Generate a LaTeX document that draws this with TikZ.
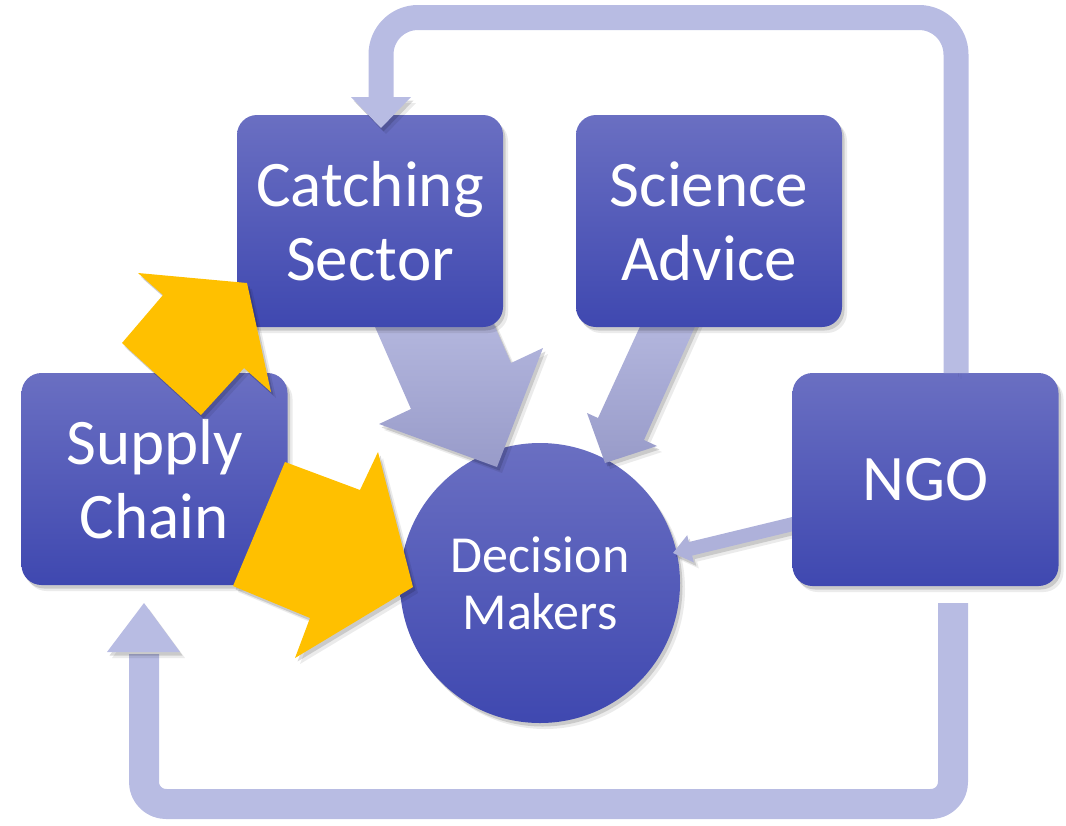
\documentclass[tikz,border=0pt]{standalone}
\usepackage{fontspec}
\setmainfont{Carlito}
\definecolor{boxtop}{RGB}{106,111,194}
\definecolor{boxbot}{RGB}{63,72,176}
\definecolor{loopc}{RGB}{184,188,227}
\definecolor{lavtop}{RGB}{180,183,222}
\definecolor{lavbot}{RGB}{152,155,201}
\definecolor{gold}{RGB}{255,192,0}
\tikzset{
  shad/.style={
    preaction={fill=black,opacity=.08,transform canvas={shift={(5pt,-6pt)}}},
    preaction={fill=black,opacity=.14,transform canvas={shift={(2.5pt,-3.5pt)}}}},
  lshad/.style={
    preaction={draw=black,opacity=.08,transform canvas={shift={(5pt,-6pt)}}},
    preaction={draw=black,opacity=.14,transform canvas={shift={(2.5pt,-3.5pt)}}}},
  boxnode/.style={shad, rounded corners=20pt, top color=boxtop, bottom color=boxbot,
    minimum width=266pt, minimum height=212pt, inner sep=0pt, text=white,
    align=center, font=\fontsize{65}{74}\selectfont},
  dmnode/.style={shad, circle, top color=boxtop, bottom color=boxbot,
    minimum size=280pt, inner sep=0pt, text=white, align=center,
    font=\fontsize{52}{57}\selectfont},
  looparrow/.style={lshad, draw=loopc, line cap=butt, line join=round},
  loophead/.style={shad, fill=loopc},
  lavarrow/.style={shad, top color=lavtop, bottom color=lavbot},
  ngoarrow/.style={shad, fill=lavtop!80!lavbot},
  goldarrow/.style={shad, fill=gold}
}
\begin{document}
\begin{tikzpicture}[x=1pt,y=-1pt]
\useasboundingbox (0,0) rectangle (1066,825);

% decision makers
\node[dmnode] (dm) at (540,583) {Decision\\Makers};

% lavender block arrows into decision makers
\path[lavarrow] (372,320) -- (411,409) -- (379,424) -- (497,467) -- (543,348) -- (511,363) -- (492,320) -- cycle;
\path[lavarrow] (643,320) -- (598,418) -- (587,413) -- (605,463) -- (657,446) -- (644,440) -- (698,320) -- cycle;
\path[ngoarrow] (798.4,515.5) -- (688.9,542.0) -- (687.2,535.2) -- (673,553) -- (693.8,562.4) -- (692.1,555.6) -- (801.6,529.1) -- cycle;

% boxes
\node[boxnode] (cs) at (370,221) {Catching\\Sector};
\node[boxnode] (sa) at (709,221) {Science\\Advice};
\node[boxnode] (sc) at (154.5,479) {Supply\\Chain};
\node[boxnode, minimum height=213pt] (ngo) at (925.5,479.5) {NGO};

% top loop arrow: NGO -> Catching Sector
\coordinate (t0) at (956,373);
\coordinate (t1) at (381,99);
\draw[looparrow, line width=25pt, rounded corners=37pt] (t0) -- (956,17.5) -- (381,17.5) -- (t1);
\path[loophead] (351,97) -- (411,97) -- (381,128) -- cycle;

% bottom loop arrow: NGO -> Supply Chain
\coordinate (b0) at (953,603);
\coordinate (b1) at (144,654);
\draw[looparrow, line width=30pt, rounded corners=22pt] (b0) -- (953,804) -- (144,804) -- (b1);
\path[loophead] (107,652) -- (180,652) -- (144,603) -- cycle;

% yellow arrows
\path[goldarrow] (247,283) -- (271,392) -- (244,368) -- (201,415) -- (122,343) -- (163,295) -- (138,273) -- cycle;
\path[goldarrow] (285,462) -- (360,490) -- (378,452) -- (413,587) -- (295,658) -- (310,618) -- (233,586) -- cycle;
\end{tikzpicture}
\end{document}
